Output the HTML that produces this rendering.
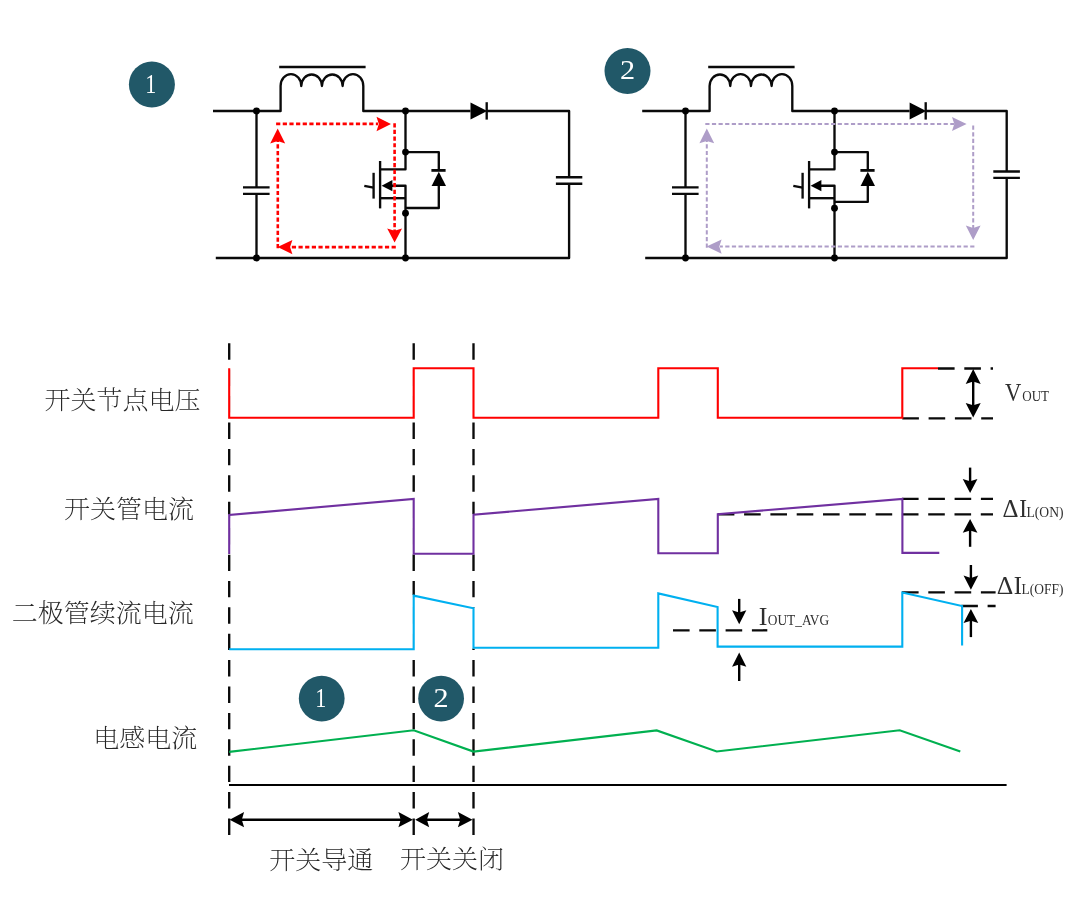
<!DOCTYPE html>
<html lang="zh-CN">
<head>
<meta charset="utf-8">
<title>Boost 变换器开关波形</title>
<style>
html,body{margin:0;padding:0;background:#fff;}
body{width:1080px;height:913px;overflow:hidden;}
svg{display:block;will-change:transform;}
.cjk{font-family:"Liberation Serif","Noto Serif CJK SC",serif;font-size:26px;font-weight:200;fill:#262626;}
.bn{font-family:"Liberation Serif",serif;fill:#fff;}
.lat{font-family:"Liberation Serif","Noto Serif CJK SC",serif;fill:#2e2e2e;}
</style>
</head>
<body>
<svg width="1080" height="913" viewBox="0 0 1080 913">
<rect width="1080" height="913" fill="#fff"/>
<g fill="none" stroke="#0a0a0a" stroke-width="2.35" stroke-linecap="butt" stroke-linejoin="round">
<path d="M213,111 H280.6 V86 A10.34,11.9 0 0 1 301.28,86 A10.34,11.9 0 0 1 321.95,86 A10.34,11.9 0 0 1 342.62,86 A10.34,11.9 0 0 1 363.3,86 V111 H470.5"/>
<path d="M279.2,67 H365.6"/>
<path d="M486.7,111 H569.1 V177.2 M569.1,183.7 V258 H215.8"/>
<polygon points="470.5,102.4 470.5,119.4 487.2,110.9" fill="#000" stroke="none"/>
<path d="M486.7,102.2 V119.6"/>
<path d="M555.9,177.2 H582.3 M555.9,183.7 H582.3"/>
<path d="M256.5,111 V187.4 M256.5,193.8 V258"/>
<path d="M243,187.4 H269.6 M243,193.8 H269.6"/>
<path d="M405.5,111 V169.3 H380.1"/>
<path d="M390,185.7 H405.5 V258"/>
<path d="M380.1,198.2 H405.5"/>
<path d="M380.1,161 V208.4"/>
<path d="M373.6,172.8 V198.6"/>
<path d="M364.3,185.8 L373.6,187.6"/>
<polygon points="381.6,185.7 392.4,180.1 392.4,191.2" fill="#000" stroke="none"/>
<path d="M405.5,152.1 H438.8 V170.4 M438.8,185 V208 H405.5"/>
<path d="M431.4,170.4 H445.6" stroke-width="2.8"/>
<polygon points="438.8,171.8 431.6,185.9 446,185.9" fill="#000" stroke="none"/>
<circle cx="256.5" cy="111" r="3.4" fill="#000" stroke="none"/>
<circle cx="405.5" cy="111" r="3.4" fill="#000" stroke="none"/>
<circle cx="405.5" cy="152.1" r="3.4" fill="#000" stroke="none"/>
<circle cx="405.5" cy="213.2" r="3.4" fill="#000" stroke="none"/>
<circle cx="405.5" cy="258" r="3.4" fill="#000" stroke="none"/>
<circle cx="256.5" cy="258" r="3.4" fill="#000" stroke="none"/>
</g>
<g fill="none" stroke="#0a0a0a" stroke-width="2.35" stroke-linecap="butt" stroke-linejoin="round">
<path d="M642.2,111 H709.6 V86 A10.34,11.9 0 0 1 730.27,86 A10.34,11.9 0 0 1 750.95,86 A10.34,11.9 0 0 1 771.62,86 A10.34,11.9 0 0 1 792.3,86 V111 H909.6"/>
<path d="M708.2,67 H794.6"/>
<path d="M925.7,111 H1006.7 V171.5 M1006.7,177.8 V258 H645.2"/>
<polygon points="909.6,102.4 909.6,119.4 926.2,110.9" fill="#000" stroke="none"/>
<path d="M925.7,102.2 V119.6"/>
<path d="M993.3,171.5 H1019.9 M993.3,177.8 H1019.9"/>
<path d="M685.5,111 V187.4 M685.5,193.8 V258"/>
<path d="M672,187.4 H698.6 M672,193.8 H698.6"/>
<path d="M834.5,111 V169.3 H809.1"/>
<path d="M819,185.7 H834.5 V258"/>
<path d="M809.1,198.2 H834.5"/>
<path d="M809.1,161 V208.4"/>
<path d="M802.6,172.8 V198.6"/>
<path d="M793.3,185.8 L802.6,187.6"/>
<polygon points="810.6,185.7 821.4,180.1 821.4,191.2" fill="#000" stroke="none"/>
<path d="M834.5,152.1 H867.8 V170.4 M867.8,185 V201.8 H834.5"/>
<path d="M860.4,170.4 H874.6" stroke-width="2.8"/>
<polygon points="867.8,171.8 860.6,185.9 875,185.9" fill="#000" stroke="none"/>
<circle cx="685.5" cy="111" r="3.4" fill="#000" stroke="none"/>
<circle cx="834.5" cy="111" r="3.4" fill="#000" stroke="none"/>
<circle cx="834.5" cy="152.1" r="3.4" fill="#000" stroke="none"/>
<circle cx="834.5" cy="208.2" r="3.4" fill="#000" stroke="none"/>
<circle cx="834.5" cy="258" r="3.4" fill="#000" stroke="none"/>
<circle cx="685.5" cy="258" r="3.4" fill="#000" stroke="none"/>
</g>
<g fill="none" stroke="#FF0000" stroke-width="2.6" stroke-dasharray="4.2 2.45">
<path d="M276.1,123.9 H378"/>
<path d="M394.6,123.2 V231"/>
<path d="M395.8,247.1 H290"/>
<path d="M277.8,248.3 V141"/>
</g>
<polygon points="391,124 376.5,131.3 378.8,124 376.5,116.7" fill="#FF0000"/>
<polygon points="394.6,242.6 387.2,228.4 394.6,230.7 402,228.4" fill="#FF0000"/>
<polygon points="277.6,247.1 292.4,239.9 290.1,247.1 292.4,254.3" fill="#FF0000"/>
<polygon points="277.7,128.6 285.2,143.4 277.7,141.1 270.2,143.4" fill="#FF0000"/>
<g fill="none" stroke="#AE9DC8" stroke-width="2" stroke-dasharray="4.2 2.42">
<path d="M705.3,124 H954"/>
<path d="M973.2,125.6 V228"/>
<path d="M974.4,246.6 H720"/>
<path d="M706.8,247.8 V141"/>
</g>
<polygon points="966.6,124 952,131.1 954.3,124 952,116.9" fill="#AE9DC8"/>
<polygon points="973.2,240 965.8,225.6 973.2,227.9 980.6,225.6" fill="#AE9DC8"/>
<polygon points="706.6,246.6 721.6,239.5 719.3,246.6 721.6,253.7" fill="#AE9DC8"/>
<polygon points="706.8,128.6 714.2,143.3 706.8,141 699.4,143.3" fill="#AE9DC8"/>
<circle cx="151.9" cy="84.5" r="23" fill="#215868"/>
<text transform="translate(150.9,92.8) scale(0.82,1)" font-size="27" text-anchor="middle" class="bn">1</text>
<circle cx="627.5" cy="71.1" r="23" fill="#215868"/>
<text transform="translate(627.5,79.4) scale(1.12,1)" font-size="27" text-anchor="middle" class="bn">2</text>
<g fill="none" stroke="#0a0a0a" stroke-width="2.35" stroke-dasharray="16.4 10">
<path d="M229.2,343.3 V835.2"/>
<path d="M413.7,343.3 V835.2"/>
<path d="M473.5,343.3 V835.2"/>
</g>
<g fill="none" stroke="#0a0a0a" stroke-width="2.35" stroke-dasharray="16.6 9.7">
<path d="M938,368.5 H993"/>
<path d="M902.3,418.3 H993"/>
<path d="M902,498.8 H993"/>
<path d="M717.8,514.3 H993"/>
<path d="M902,592.3 H995.6"/>
<path d="M961.3,606 H995.6"/>
<path d="M673,630.3 H767.3"/>
</g>
<path fill="none" stroke="#fff" stroke-width="3.2" d="M229.2,367.5 V418.5 M229.2,514.5 V554.6 M413.7,367.5 V418.5 M413.7,498.5 V554.2 M413.7,595 V650 M473.5,367.5 V418.5 M473.5,514 V554.2 M473.5,607.8 V648.6"/>
<g fill="none" stroke-width="2.1" stroke-linejoin="miter">
<path stroke="#FF0000" d="M229.2,368.3 V417.8 H413.7 V368.3 H473.5 V417.8 H658.3 V368.3 H717.8 V417.8 H902.3 V368.2 H938"/>
<path stroke="#7030A0" d="M229.2,553.9 V515 L413.7,498.9 V553.7 H473.5 V514.7 L658.3,498.9 V553.3 H717.8 V514.2 L902.4,499 V552.9 H939.3"/>
<path stroke="#00B0F0" d="M229.2,649.2 H413.7 V595.6 L473.5,608.3 V647.8 H658.3 V593.4 L717.6,607.1 V646.6 H902.3 V592.6 L962.1,606 V645.5"/>
<path stroke="#00B050" d="M229.2,751.9 L413.7,730.3 L473.5,751.6 L656.7,730.4 L716.7,751.5 L899.7,730.3 L960.3,751.5"/>
<path stroke="#000" d="M229,785 H1006.6"/>
</g>
<circle cx="321.7" cy="698.6" r="22.9" fill="#215868"/>
<text transform="translate(320.7,706.9) scale(0.82,1)" font-size="27" text-anchor="middle" class="bn">1</text>
<circle cx="441.1" cy="698.6" r="22.9" fill="#215868"/>
<text transform="translate(441.1,706.9) scale(1.12,1)" font-size="27" text-anchor="middle" class="bn">2</text>
<g fill="none" stroke="#000" stroke-width="2.4">
<path d="M973.2,380 V406"/>
<path d="M970.1,467.6 V482"/>
<path d="M970.1,530 V546.8"/>
<path d="M970.9,565 V579"/>
<path d="M970.9,620 V637.1"/>
<path d="M739.2,598.9 V613"/>
<path d="M739.2,664 V681"/>
<path d="M240,819.7 H402"/>
<path d="M426,819.7 H461"/>
</g>
<polygon points="973.2,369 980.7,383.9 973.2,381.6 965.7,383.9" fill="#000"/>
<polygon points="973.2,417.6 965.7,403 973.2,405.3 980.7,403" fill="#000"/>
<polygon points="970.1,493 962.75,479 970.1,481.3 977.45,479" fill="#000"/>
<polygon points="970.1,519 977.45,532.8 970.1,530.5 962.75,532.8" fill="#000"/>
<polygon points="970.9,589.8 963.55,575.6 970.9,577.9 978.25,575.6" fill="#000"/>
<polygon points="970.9,609 978.25,623 970.9,620.7 963.55,623" fill="#000"/>
<polygon points="739.2,624.2 732.05,610.3 739.2,612.6 746.35,610.3" fill="#000"/>
<polygon points="739.2,652.4 746.35,666.7 739.2,664.4 732.05,666.7" fill="#000"/>
<polygon points="229.6,819.7 244.1,812.1 241.8,819.7 244.1,827.3" fill="#000"/>
<polygon points="412.9,819.7 398.4,827.3 400.7,819.7 398.4,812.1" fill="#000"/>
<polygon points="415.2,819.7 429.2,812.1 426.9,819.7 429.2,827.3" fill="#000"/>
<polygon points="472.5,819.7 457.9,827.3 460.2,819.7 457.9,812.1" fill="#000"/>
<text transform="translate(44.6,409.4) scale(1,0.94)" class="cjk">开关节点电压</text>
<text transform="translate(64,517.9) scale(1,0.94)" class="cjk">开关管电流</text>
<text transform="translate(11.8,622.1) scale(1,0.94)" class="cjk">二极管续流电流</text>
<text transform="translate(93.2,747) scale(1,0.94)" class="cjk">电感电流</text>
<text transform="translate(269.2,869.2) scale(1,0.94)" class="cjk">开关导通</text>
<text transform="translate(400,868.4) scale(1,0.94)" class="cjk">开关关闭</text>
<text transform="translate(1004.95,400.7) scale(0.8961,1)" class="lat" font-size="25.2">V</text>
<text transform="translate(1022.26,400.9) scale(0.9607,1)" class="lat" font-size="13.6">OUT</text>
<text transform="translate(1002.55,516.9) scale(0.9861,1)" class="lat" font-size="25.2">Δ</text>
<text transform="translate(1019.36,516.9) scale(0.9249,1)" class="lat" font-size="25.2">I</text>
<text transform="translate(1026.51,516.9) scale(0.9995,1)" class="lat" font-size="13.6">L(ON)</text>
<text transform="translate(996.72,593.6) scale(1.0211,1)" class="lat" font-size="25.2">Δ</text>
<text transform="translate(1013.72,593.6) scale(0.9704,1)" class="lat" font-size="25.2">I</text>
<text transform="translate(1021.61,593.6) scale(0.9873,1)" class="lat" font-size="13.6">L(OFF)</text>
<text transform="translate(758.86,625.4) scale(1.0310,1)" class="lat" font-size="25.2">I</text>
<text transform="translate(767.75,625.4) scale(0.9837,1)" class="lat" font-size="13.6">OUT_AVG</text>
</svg>
</body>
</html>
